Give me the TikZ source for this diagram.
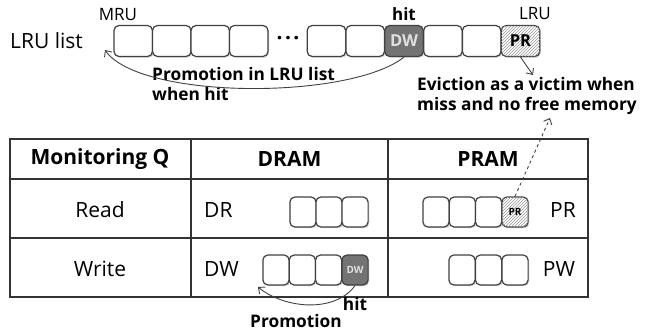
\documentclass[tikz,border=0pt]{standalone}
\usepackage{fontspec}
\setmainfont{Open Sans}
\usepackage{tikz}
\usetikzlibrary{arrows.meta}
\usetikzlibrary{positioning}
\usetikzlibrary{patterns,shadows}

\begin{document}
\begin{tikzpicture}[x=1pt,y=-1pt]
		\tikzstyle{cell} = [draw=black!75, line width=1.2pt, rounded corners=5pt, fill=white, inner sep=0pt,
			drop shadow={shadow xshift=1.2pt, shadow yshift=-1.2pt, opacity=.35}]
		\tikzstyle{lrucell} = [cell, minimum width=38.5pt, minimum height=31pt, font=\fontsize{16.5}{16}\selectfont\bfseries]
		\tikzstyle{qcell} = [cell, minimum width=26.2pt, minimum height=30pt, font=\fontsize{10}{10}\selectfont\bfseries]
		\tikzstyle{hitcell} = [fill=black!55, text=black!12]
		\tikzstyle{victimcell} = [postaction={pattern=north east lines, pattern color=black!40}]
		\tikzstyle{celltxt} = [font=\fontsize{21}{23}\selectfont, inner sep=0pt]
		\tikzstyle{headtxt} = [font=\fontsize{21}{23}\selectfont\bfseries, inner sep=0pt]
		\tikzstyle{tag} = [font=\fontsize{17}{19}\selectfont, inner sep=0pt]
		\tikzstyle{note} = [font=\fontsize{17.3}{20}\selectfont\bfseries, align=left, inner sep=0pt]
		\tikzstyle{tab} = [draw=black!80, line width=1.2pt]
		\tikzstyle{arr} = [draw=black!75, line width=0.9pt, -{Straight Barb[length=5pt,width=9pt]}]

		\useasboundingbox (0,0) rectangle (646,333);

		% LRU list
		\node[celltxt, anchor=west] (lrulist) at (10,41) {LRU list};
		\node[lrucell] (c1) at (133.25,41) {};
		\node[lrucell] (c2) at (171.75,41) {};
		\node[lrucell] (c3) at (210.25,41) {};
		\node[lrucell] (c4) at (248.75,41) {};
		\node[headtxt] (dots) at (288,41) {·\kern2.5pt·\kern2.5pt·};
		\node[lrucell] (c5) at (326.4,41) {};
		\node[lrucell] (c6) at (365.2,41) {};
		\node[lrucell, hitcell] (c7) at (404,41) {DW};
		\node[lrucell] (c8) at (442.9,41) {};
		\node[lrucell] (c9) at (481.7,41) {};
		\node[lrucell, victimcell] (c10) at (520.5,41) {PR};

		\node[tag] (mru) at (118,15) {MRU};
		\node[tag, font=\fontsize{17}{19}\selectfont\bfseries] (hit1) at (404,14) {hit};
		\node[tag] (lru) at (535,14) {LRU};

		\node[note, anchor=north west] (promo1) at (152,67) {Promotion in LRU list\\when hit};
		\node[note, anchor=north west] (evict) at (417,77) {Eviction as a victim when\\miss and no free memory};

		\coordinate (mrutip) at (105,50);
		\coordinate (evtip) at (533,75);
		\coordinate (evup) at (550,118);
		\draw[arr] (c7.south) .. controls (350,100) and (140,100) .. (mrutip);
		\draw[arr] (c10.south) -- (evtip);

		% table
		\draw[tab] (10,139) rectangle (588,297);
		\draw[tab] (10,179) -- (588,179);
		\draw[tab] (10,238) -- (588,238);
		\draw[tab] (191,139) -- (191,297);
		\draw[tab] (388,139) -- (388,297);

		\node[headtxt] (monq) at (100,159) {Monitoring Q};
		\node[headtxt] (dram) at (289.5,159) {DRAM};
		\node[headtxt] (pram) at (488,159) {PRAM};
		\node[celltxt] (read) at (100,210) {Read};
		\node[celltxt] (write) at (100,269) {Write};
		\node[celltxt, anchor=west] (drl) at (204,210) {DR};
		\node[celltxt, anchor=west] (dwl) at (204,269) {DW};
		\node[celltxt] (prl) at (563,210) {PR};
		\node[celltxt] (pwl) at (559,269) {PW};

		\node[qcell] (dr1) at (303,212) {};
		\node[qcell] (dr2) at (329,212) {};
		\node[qcell] (dr3) at (355,212) {};

		\node[qcell] (pr1) at (436,212) {};
		\node[qcell] (pr2) at (462.3,212) {};
		\node[qcell] (pr3) at (488.6,212) {};
		\node[qcell, victimcell] (pr4) at (515,212) {PR};

		\node[qcell] (dw1) at (276,270) {};
		\node[qcell] (dw2) at (302.3,270) {};
		\node[qcell] (dw3) at (328.6,270) {};
		\node[qcell, hitcell] (dw4) at (355,270) {DW};

		\node[qcell] (pw1) at (462,270) {};
		\node[qcell] (pw2) at (488.5,270) {};
		\node[qcell] (pw3) at (515,270) {};

		\node[note] (hit2) at (355,304) {hit};
		\node[note] (promo2) at (296,321) {Promotion};

		\coordinate (dwtip) at (258,287);
		\draw[arr] (dw4.south) .. controls (335,313) and (285,309) .. (dwtip);
		\draw[arr, dashed] (pr4.north) -- (evup);

\end{tikzpicture}
\end{document}
